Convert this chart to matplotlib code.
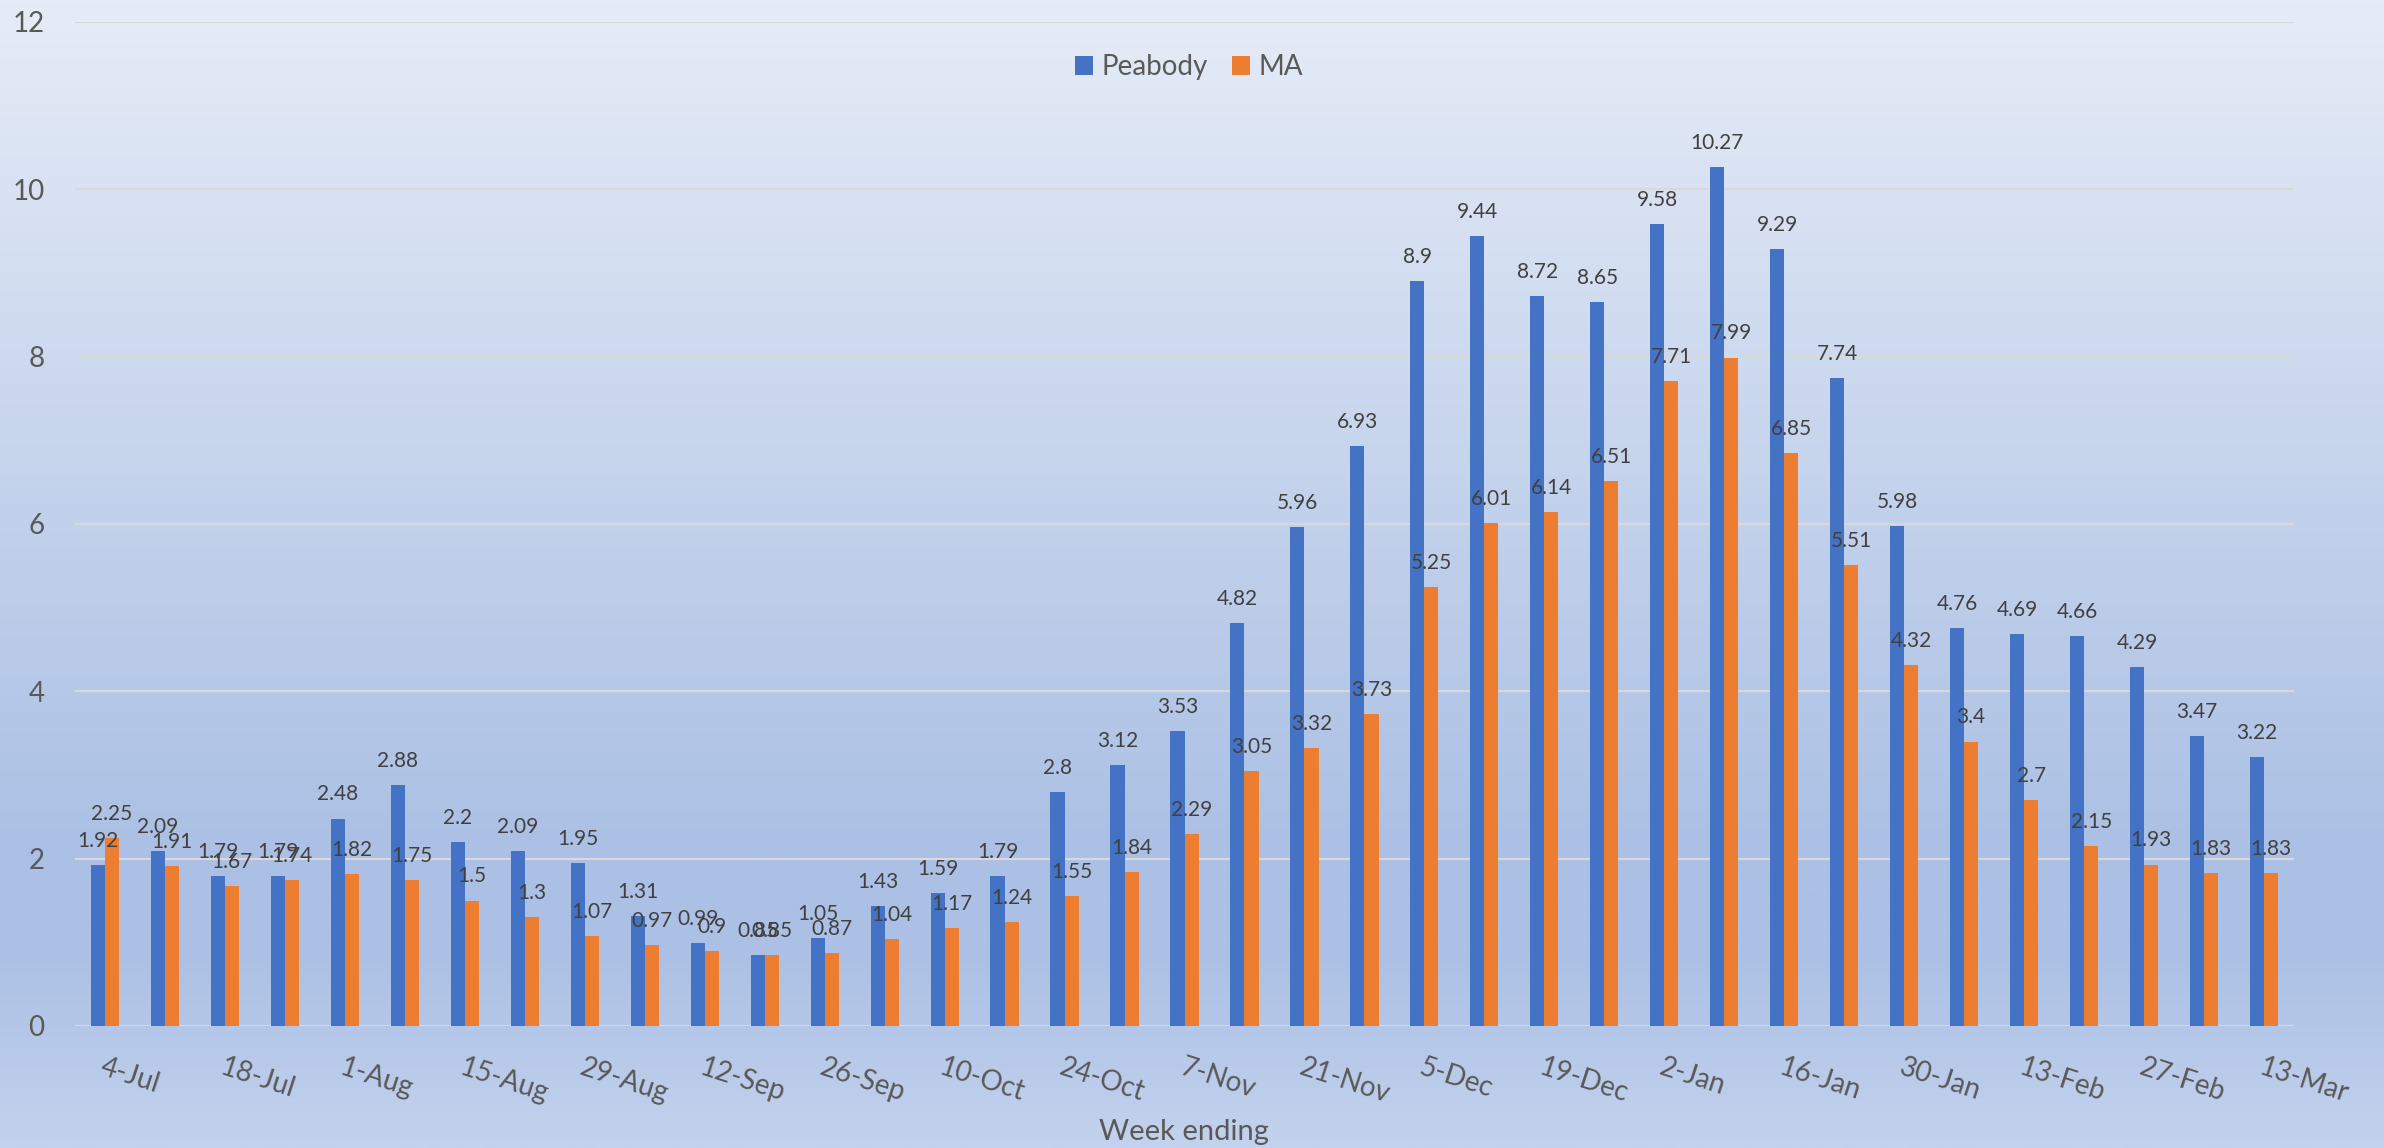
import matplotlib
matplotlib.use("Agg")
import matplotlib.pyplot as plt
import numpy as np
from matplotlib.colors import LinearSegmentedColormap

weeks = ["4-Jul", "11-Jul", "18-Jul", "25-Jul", "1-Aug", "8-Aug", "15-Aug", "22-Aug",
         "29-Aug", "5-Sep", "12-Sep", "19-Sep", "26-Sep", "3-Oct", "10-Oct", "17-Oct",
         "24-Oct", "31-Oct", "7-Nov", "14-Nov", "21-Nov", "28-Nov", "5-Dec", "12-Dec",
         "19-Dec", "26-Dec", "2-Jan", "9-Jan", "16-Jan", "23-Jan", "30-Jan", "6-Feb",
         "13-Feb", "20-Feb", "27-Feb", "6-Mar", "13-Mar"]
peabody = [1.92, 2.09, 1.79, 1.79, 2.48, 2.88, 2.2, 2.09, 1.95, 1.31, 0.99, 0.85,
           1.05, 1.43, 1.59, 1.79, 2.8, 3.12, 3.53, 4.82, 5.96, 6.93, 8.9, 9.44,
           8.72, 8.65, 9.58, 10.27, 9.29, 7.74, 5.98, 4.76, 4.69, 4.66, 4.29, 3.47, 3.22]
ma = [2.25, 1.91, 1.67, 1.74, 1.82, 1.75, 1.5, 1.3, 1.07, 0.97, 0.9, 0.85,
      0.87, 1.04, 1.17, 1.24, 1.55, 1.84, 2.29, 3.05, 3.32, 3.73, 5.25, 6.01,
      6.14, 6.51, 7.71, 7.99, 6.85, 5.51, 4.32, 3.4, 2.7, 2.15, 1.93, 1.83, 1.83]
yticks = [0, 2, 4, 6, 8, 10, 12]

FONT = ["Lato", "DejaVu Sans"]
plt.rcParams["font.family"] = FONT

W, H = 2384, 1148
fig = plt.figure(figsize=(W / 100, H / 100), dpi=100)

# gradient background
bg = fig.add_axes([0, 0, 1, 1], zorder=-10)
cmap = LinearSegmentedColormap.from_list(
    "bg", [(0.0, "#E6ECF7"), (0.74, "#ABC0E4"), (0.83, "#ABC0E4"), (1.0, "#C3D2EE")])
grad = np.linspace(0, 1, 512).reshape(-1, 1)
bg.imshow(grad, aspect="auto", cmap=cmap, extent=[0, 1, 0, 1], origin="upper")
bg.set_axis_off()

left, right = 75 / W, 2294 / W
bottom, top = 1 - 1026 / H, 1 - 22 / H
ax = fig.add_axes([left, bottom, right - left, top - bottom])
ax.set_facecolor("none")

x = np.arange(len(weeks))
bw = 0.235
blue, orange = "#4472C4", "#ED7D31"
b1 = ax.bar(x - bw / 2, peabody, bw, color=blue, zorder=3, label="Peabody")
b2 = ax.bar(x + bw / 2, ma, bw, color=orange, zorder=3, label="MA")

for xi, v in zip(x, peabody):
    ax.annotate(f"{v:g}", (xi - bw / 2, v), xytext=(0, 13), textcoords="offset points",
                ha="center", va="baseline", fontsize=15, color="#404040", zorder=5)
for xi, v in zip(x, ma):
    ax.annotate(f"{v:g}", (xi + bw / 2, v), xytext=(0, 13), textcoords="offset points",
                ha="center", va="baseline", fontsize=15, color="#404040", zorder=5)

ax.set_xlim(-0.5, len(weeks) - 0.5)
ax.set_ylim(0, 12)
ax.set_yticks(yticks)
ax.set_yticklabels([str(t) for t in yticks])
ax.yaxis.grid(True, color="#D9D9D9", linewidth=1.5, zorder=0)
ax.set_axisbelow(True)
for s in ax.spines.values():
    s.set_visible(False)
ax.axhline(0, color="#D9D9D9", linewidth=1.5, zorder=2)

ax.tick_params(axis="y", length=0, pad=22, labelsize=20, labelcolor="#595959")
ax.set_xticks(x[::2])
ax.set_xticklabels(weeks[::2])
ax.tick_params(axis="x", length=0, pad=20, labelsize=20, labelcolor="#595959")
for lab in ax.get_xticklabels():
    lab.set_rotation(-18)
    lab.set_rotation_mode("anchor")
    lab.set_ha("left")
    lab.set_va("top")

fig.text(1184 / W, 1 - 1140 / H, "Week ending", ha="center", va="baseline",
         fontsize=21, color="#595959")

fig.legend(handles=[b1, b2], labels=["Peabody", "MA"], loc="center",
           bbox_to_anchor=(1189 / W, 1 - 67 / H), bbox_transform=fig.transFigure,
           ncol=2, frameon=False, fontsize=20, handlelength=0.65, handleheight=0.65,
           handletextpad=0.3, columnspacing=0.9, labelcolor="#595959")

fig.savefig("out.png", dpi=100)
